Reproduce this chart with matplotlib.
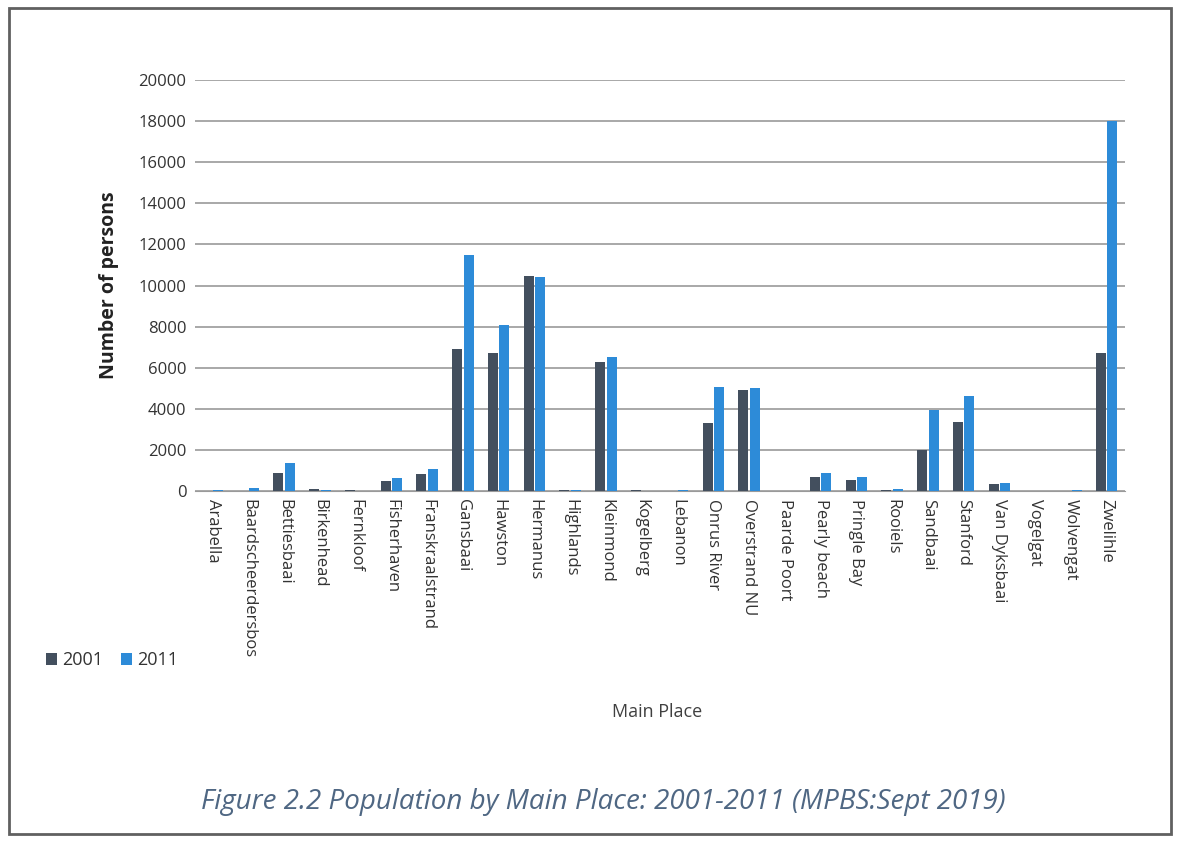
import matplotlib
matplotlib.use("Agg")
import matplotlib.pyplot as plt
import numpy as np
from matplotlib.patches import Rectangle

places = ["Arabella", "Baardscheerdersbos", "Bettiesbaai", "Birkenhead", "Fernkloof",
          "Fisherhaven", "Franskraalstrand", "Gansbaai", "Hawston", "Hermanus",
          "Highlands", "Kleinmond", "Kogelberg", "Lebanon", "Onrus River",
          "Overstrand NU", "Paarde Poort", "Pearly beach", "Pringle Bay", "Rooiels",
          "Sandbaai", "Stanford", "Van Dyksbaai", "Vogelgat", "Wolvengat", "Zwelihle"]
pop_2001 = [0, 0, 900, 80, 60, 500, 850, 6900, 6700, 10450,
            60, 6300, 50, 0, 3300, 4900, 0, 700, 550, 60,
            2000, 3350, 350, 0, 0, 6700]
pop_2011 = [50, 150, 1350, 50, 10, 650, 1100, 11500, 8100, 10400,
            50, 6500, 0, 40, 5050, 5000, 0, 900, 700, 100,
            3950, 4650, 400, 0, 40, 18000]
yticks = [0, 2000, 4000, 6000, 8000, 10000, 12000, 14000, 16000, 18000, 20000]

plt.rcParams['font.family'] = ['Open Sans', 'DejaVu Sans']
fig = plt.figure(figsize=(11.8, 8.41), dpi=100)
ax = fig.add_axes([0.165, 0.416, 0.788, 0.489])

x = np.arange(len(places))
w = 0.28
c01 = "#434f5e"
c11 = "#2d8bd8"
ax.bar(x - w/2 - 0.02, pop_2001, w, color=c01, label="2001", zorder=3)
ax.bar(x + w/2 + 0.02, pop_2011, w, color=c11, label="2011", zorder=3)

ax.set_xlim(-0.5, len(places) - 0.5)
ax.set_ylim(0, 20000)
ax.set_yticks(yticks)
ax.set_yticklabels([str(v) for v in yticks], fontsize=12, color="#333333")
ax.set_xticks(x)
ax.set_xticklabels(places, rotation=270, fontsize=12, color="#333333", va="top", ha="center")
ax.yaxis.grid(True, color="#9a9a9a", linewidth=1.2, zorder=0)
for s in ["top", "right", "left"]:
    ax.spines[s].set_visible(False)
ax.spines["bottom"].set_color("#9a9a9a")
ax.tick_params(axis="both", length=0, pad=6)
ax.set_ylabel("Number of persons", fontsize=14, fontweight="bold", color="#222222", labelpad=14)

fig.text(0.557, 0.153, "Main Place", fontsize=13, color="#404040", ha="center", va="center")

handles, labels = ax.get_legend_handles_labels()
fig.legend(handles, labels, loc="center left", bbox_to_anchor=(0.025, 0.215), ncol=2,
           frameon=False, fontsize=13, handlelength=0.6, handleheight=0.6,
           handletextpad=0.3, columnspacing=1.0, labelcolor="#333333")

fig.text(0.17, 0.046, "Figure 2.2 Population by Main Place: 2001-2011 (MPBS:Sept 2019)",
         fontsize=20, style="italic", color="#4f6783", ha="left", va="center")

fig.add_artist(Rectangle((0.008, 0.008), 0.984, 0.982, transform=fig.transFigure,
                         fill=False, edgecolor="#606060", linewidth=2))

fig.savefig("out.png", dpi=100)
